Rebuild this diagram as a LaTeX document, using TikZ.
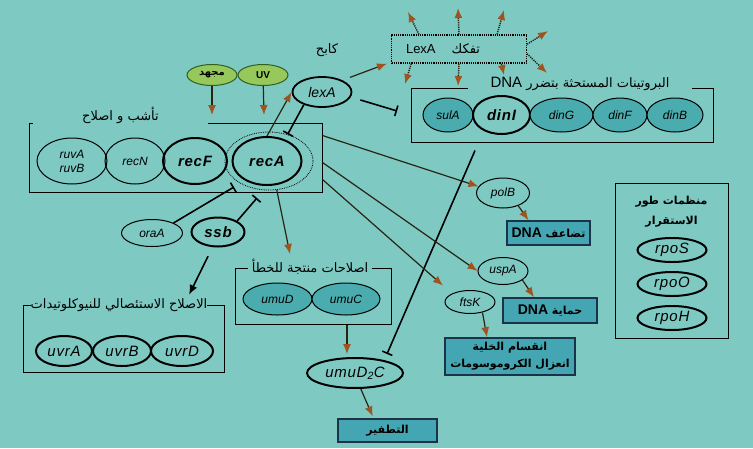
\documentclass[tikz,border=0pt]{standalone}
\usepackage{fontspec}
\setmainfont{Liberation Sans}
\newfontfamily\arabicfont[Script=Arabic]{DejaVu Sans}
\TeXXeTstate=1
\usetikzlibrary{arrows.meta,shapes.geometric}

\definecolor{bgteal}{RGB}{126,202,195}
\definecolor{genefill}{RGB}{74,172,174}
\definecolor{boxfill}{RGB}{68,166,178}
\definecolor{boxline}{RGB}{28,50,70}
\definecolor{greenfill}{RGB}{150,200,92}
\definecolor{greenline}{RGB}{48,96,30}
\definecolor{headbrown}{RGB}{158,84,30}
\definecolor{linedark}{RGB}{40,36,18}

\tikzset{
  gene/.style={ellipse,draw,line width=1pt,inner sep=0pt,font=\fontsize{12}{14}\selectfont\itshape},
  biggene/.style={gene,line width=2pt,font=\fontsize{15}{17}\selectfont\itshape\addfontfeature{LetterSpace=5}},
  tealgene/.style={gene,fill=genefill},
  stress/.style={ellipse,draw=greenline,line width=1pt,fill=greenfill,inner sep=0pt,minimum width=50pt,minimum height=21pt},
  grpbox/.style={draw,line width=1pt,inner sep=0pt},
  grptitle/.style={fill=bgteal,inner sep=0pt,font=\arabicfont\fontsize{13}{15}\selectfont},
  outbox/.style={draw=boxline,line width=1.6pt,fill=boxfill,inner sep=0pt,align=center,font=\arabicfont\bfseries\fontsize{11}{17}\selectfont},
  act/.style={draw=linedark,line width=1.2pt,-{Latex[length=10pt,width=8pt,color=headbrown]}},
  dotact/.style={act,densely dotted,line width=1.5pt},
  blk/.style={draw=black,line width=1.6pt,-{Latex[length=10pt,width=8pt]}},
  inh/.style={draw=black,line width=1.6pt,-{Bar[width=11pt,line width=1.6pt]}}
}

\begin{document}
\begin{tikzpicture}[x=1pt,y=-1pt]
\fill[bgteal] (0,0) rectangle (753,448);

\node[stress] (stress) at (212,75) {\arabicfont\bfseries\fontsize{10}{10}\selectfont\beginR مجهد\endR};
\node[stress] (uv) at (263,75) {\bfseries\fontsize{10}{10}\selectfont UV};
\node[font=\arabicfont\fontsize{13}{13}\selectfont] (repr) at (327,50) {\beginR كابح\endR};
\node[biggene,line width=1.8pt,minimum width=59pt,minimum height=30pt,font=\fontsize{14}{14}\selectfont\itshape] (lexA) at (322,92) {lexA};
\node[draw,densely dotted,line width=1.2pt,minimum width=135pt,minimum height=28pt,inner sep=0pt,font=\fontsize{13}{13}\selectfont] (lexbox) at (459,49) {LexA\kern16pt\arabicfont\beginR تفكك\endR\kern32pt};

\node[grpbox,minimum width=302pt,minimum height=54pt] (dnabox) at (562,115) {};
\node[grptitle,minimum width=224pt,minimum height=16pt] (dnatitle) at (580,84) {{\rmfamily\fontsize{15}{15}\selectfont DNA} \beginR البروتينات المستحثة بتضرر\endR};
\node[tealgene,minimum width=50pt,minimum height=34pt] (sulA) at (448,115) {sulA};
\node[biggene,minimum width=57pt,minimum height=38pt] (dinI) at (501.5,115) {\bfseries dinI};
\node[tealgene,minimum width=63pt,minimum height=34pt] (dinG) at (561.5,115) {dinG};
\node[tealgene,minimum width=54pt,minimum height=34pt] (dinF) at (620,115) {dinF};
\node[tealgene,minimum width=56pt,minimum height=34pt] (dinB) at (675,115) {dinB};

\node[grpbox,minimum width=293pt,minimum height=69pt] (recbox) at (175.5,157.5) {};
\node[grptitle,minimum width=175pt,minimum height=22pt] (rectitle) at (120.5,115) {\beginR تأشب و اصلاح\endR};
\node[gene,minimum width=70pt,minimum height=46pt,align=center] (ruv) at (72,161) {ruvA\\ruvB};
\node[gene,minimum width=60pt,minimum height=46pt] (recN) at (135,161) {recN};
\node[biggene,minimum width=64pt,minimum height=46pt] (recF) at (195,161) {\bfseries recF};
\node[biggene,minimum width=69pt,minimum height=48pt] (recA) at (267,161) {\bfseries recA};
\node[ellipse,draw,densely dotted,line width=0.8pt,minimum width=88pt,minimum height=58pt] (recAring) at (269,161) {};

\node[gene,minimum width=61pt,minimum height=27pt] (oraA) at (152,233) {oraA};
\node[biggene,minimum width=53pt,minimum height=29pt] (ssb) at (218,232) {\bfseries ssb};

\node[grpbox,minimum width=201pt,minimum height=67pt] (nerbox) at (123.5,338.5) {};
\node[grptitle,minimum width=176pt,minimum height=16pt] (nertitle) at (119,305) {\beginR الاصلاح الاستئصالي للنيوكلوتيدات\endR};
\node[biggene,minimum width=56pt,minimum height=30pt] (uvrA) at (64,351) {uvrA};
\node[biggene,minimum width=58pt,minimum height=30pt] (uvrB) at (122,351) {uvrB};
\node[biggene,minimum width=62pt,minimum height=30pt] (uvrD) at (182,351) {uvrD};

\node[grpbox,minimum width=156pt,minimum height=56pt] (errbox) at (313,296) {};
\node[grptitle,minimum width=124pt,minimum height=16pt] (errtitle) at (310,267) {\beginR اصلاحات منتجة للخطأ\endR};
\node[tealgene,minimum width=69pt,minimum height=32pt] (umuD) at (277.5,299) {umuD};
\node[tealgene,minimum width=68pt,minimum height=32pt] (umuC) at (346,299) {umuC};
\node[biggene,minimum width=96pt,minimum height=30pt] (umuDC) at (355,373) {umuD\textsubscript{2}C};
\node[outbox,minimum width=99pt,minimum height=23pt] (mutbox) at (387.5,430.5) {\beginR التطفير\endR};

\node[gene,minimum width=53pt,minimum height=30pt] (polB) at (503,193) {polB};
\node[outbox,minimum width=83pt,minimum height=24pt] (repbox) at (548.5,233) {{\rmfamily\fontsize{14}{14}\selectfont DNA} \beginR تضاعف\endR};
\node[gene,minimum width=50pt,minimum height=27pt] (uspA) at (503,271) {uspA};
\node[outbox,minimum width=94pt,minimum height=25pt] (protbox) at (550,310.5) {{\rmfamily\fontsize{14}{14}\selectfont DNA} \beginR حماية\endR};
\node[gene,minimum width=50pt,minimum height=23pt] (ftsK) at (470,302) {ftsK};
\node[outbox,minimum width=130pt,minimum height=37pt] (divbox) at (510,356.5) {\beginR انقسام الخلية\endR\\\beginR انعزال الكروموسومات\endR};

\node[grpbox,minimum width=113pt,minimum height=155pt] (statbox) at (671.5,260.5) {};
\node[align=center,font=\arabicfont\bfseries\fontsize{11}{20}\selectfont] (stattitle) at (671.5,212) {\beginR منظمات طور\endR\\\beginR الاستقرار\endR};
\node[biggene,minimum width=69pt,minimum height=24pt] (rpoS) at (672,250) {rpoS};
\node[biggene,minimum width=69pt,minimum height=24pt] (rpoO) at (672,284) {rpoO};
\node[biggene,minimum width=69pt,minimum height=24pt] (rpoH) at (672,318) {rpoH};

\coordinate (stressin) at (212,115);
\coordinate (uvin) at (264,115);
\coordinate (oraT) at (234,187);
\coordinate (ssbT) at (257,198);
\coordinate (nerin) at (189,295);
\coordinate (errin) at (290,254);
\coordinate (umuT) at (387,354);
\draw[act] (stress) -- (stressin);
\draw[act] (uv) -- (uvin);
\draw[act] (recA.north) -- (lexA.west);
\draw[inh] (lexA.215) -- (recAring.55);
\draw[act,shorten <=8pt] (lexA.30) -- ([xshift=-4pt]lexbox.south west);
\draw[inh,shorten <=10pt,shorten >=14pt] (lexA.-10) -- (dnabox.west);
\draw[inh] (oraA.25) -- (oraT);
\draw[inh] (ssb.30) -- (ssbT);
\draw[blk,shorten <=10pt] (ssb.250) -- (nerin);
\draw[act] (recAring.285) -- (errin);
\draw[act,shorten >=3pt] ([xshift=34pt]errbox.south) -- ([xshift=-8pt]umuDC.north);
\draw[act,shorten >=2pt] (umuDC.-70) -- ([xshift=-14pt]mutbox.north);
\draw[inh] ([xshift=-87pt,yshift=-8pt]dnabox.south) -- (umuT);
\draw[act] ([yshift=22pt]recbox.east) -- (polB.165);
\draw[act] ([yshift=-5pt]recbox.east) -- (uspA.west);
\draw[act,shorten >=12pt] ([yshift=-22pt]recbox.east) -- (ftsK.north west);
\draw[act] (polB.-40) -- ([xshift=-20pt]repbox.north);
\draw[act] (uspA.-25) -- ([xshift=-16pt]protbox.north);
\draw[act] (ftsK.-40) -- ([xshift=-23pt]divbox.north);

\coordinate (out1) at (408,12);
\coordinate (out2) at (458,8);
\coordinate (out3) at (504,10);
\coordinate (out4) at (548,31);
\coordinate (out5) at (547,73);
\coordinate (out6) at (405,84);
\coordinate (out7) at (458,86);
\coordinate (out8) at (504,75);
\draw[dotact] (lexbox.160) -- (out1);
\draw[dotact] (lexbox.90) -- (out2);
\draw[dotact] (lexbox.21) -- (out3);
\draw[dotact] (lexbox.4) -- (out4);
\draw[dotact] (lexbox.-4) -- (out5);
\draw[dotact] (lexbox.197) -- (out6);
\draw[dotact] (lexbox.270) -- (out7);
\draw[dotact] (lexbox.341) -- (out8);
\end{tikzpicture}
\end{document}
